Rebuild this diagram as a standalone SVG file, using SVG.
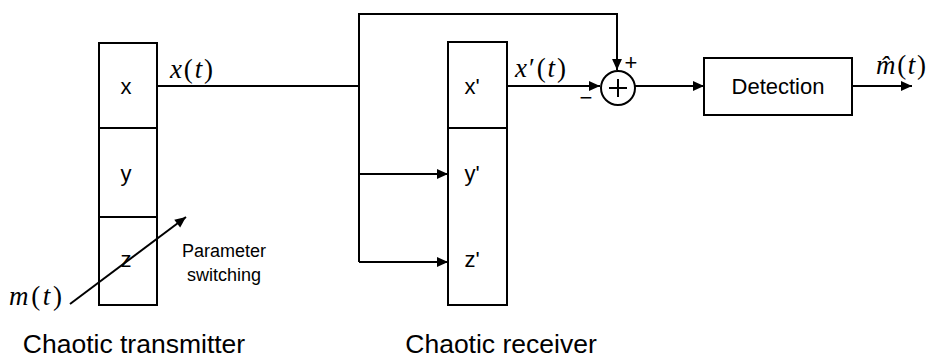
<svg xmlns="http://www.w3.org/2000/svg" width="928" height="358" viewBox="0 0 928 358">
<defs>
<style>
.box{fill:#fff;stroke:#000;stroke-width:2}
.ln{fill:none;stroke:#000;stroke-width:2}
.lbl{font-family:"Liberation Sans",Arial,sans-serif;font-size:22px;fill:#000;text-anchor:middle}
.cap{font-family:"Liberation Sans",Arial,sans-serif;font-size:26.5px;fill:#000;text-anchor:middle}
.sm{font-family:"Liberation Sans",Arial,sans-serif;font-size:18px;fill:#000;text-anchor:middle}
.m{font-family:"Liberation Serif","Times New Roman",serif;font-size:27px;fill:#000}
.mi{font-style:italic}
</style>
<marker id="ah" viewBox="0 0 10 10" refX="10" refY="5" markerWidth="16" markerHeight="11" markerUnits="userSpaceOnUse" orient="auto">
<path d="M0,0.5 L10,5 L0,9.5 z" fill="#000"/>
</marker>
</defs>
<rect width="928" height="358" fill="#fff"/>

<g id="transmitter">
<rect class="box" x="99" y="43" width="58" height="262"/>
<line class="ln" x1="99" y1="128" x2="157" y2="128"/>
<line class="ln" x1="99" y1="217" x2="157" y2="217"/>
<text class="lbl" x="126" y="94">x</text>
<text class="lbl" x="126" y="181">y</text>
<text class="lbl" x="126" y="267">z</text>
<text class="cap" x="134" y="353">Chaotic transmitter</text>
</g>

<g id="receiver">
<rect class="box" x="448" y="42" width="59" height="263"/>
<line class="ln" x1="448" y1="128" x2="507" y2="128"/>
<text class="lbl" x="472" y="94">x'</text>
<text class="lbl" x="472" y="181">y'</text>
<text class="lbl" x="472" y="267">z'</text>
<text class="cap" x="501" y="353">Chaotic receiver</text>
</g>

<g id="sum">
<circle class="box" cx="618" cy="88" r="17"/>
<line class="ln" x1="609" y1="88" x2="627" y2="88" stroke-width="1.3"/>
<line class="ln" x1="618" y1="79" x2="618" y2="97" stroke-width="1.3"/>
<text class="lbl" x="631" y="70" font-size="22">+</text>
<text class="lbl" x="586" y="105" font-size="20">−</text>
</g>

<g id="detection">
<rect class="box" x="704" y="58" width="148" height="57"/>
<text class="lbl" x="778" y="94" font-size="25">Detection</text>
</g>

<g id="connectors">
<polyline class="ln" points="157,86 359,86"/>
<polyline class="ln" points="359,262 359,14 617,14 617,70" marker-end="url(#ah)"/>
<line class="ln" x1="359" y1="174" x2="448" y2="174" marker-end="url(#ah)"/>
<line class="ln" x1="359" y1="262" x2="448" y2="262" marker-end="url(#ah)"/>
<line class="ln" x1="507" y1="86" x2="600" y2="86" marker-end="url(#ah)"/>
<line class="ln" x1="635" y1="86" x2="704" y2="86" marker-end="url(#ah)"/>
<line class="ln" x1="852" y1="86" x2="912" y2="86" marker-end="url(#ah)"/>
<line class="ln" x1="70" y1="304" x2="186" y2="217" marker-end="url(#ah)"/>
</g>

<g id="labels">
<text class="m" x="170" y="78" textLength="43"><tspan class="mi">x</tspan>(<tspan class="mi">t</tspan>)</text>
<text class="m" x="515" y="77" textLength="51"><tspan class="mi">x</tspan>′(<tspan class="mi">t</tspan>)</text>
<text class="m" x="876" y="74" textLength="50"><tspan class="mi">m̂</tspan>(<tspan class="mi">t</tspan>)</text>
<text class="m" x="9" y="305" textLength="53"><tspan class="mi">m</tspan>(<tspan class="mi">t</tspan>)</text>
<text class="sm" x="224" y="257">Parameter</text>
<text class="sm" x="224" y="281">switching</text>
</g>
</svg>
